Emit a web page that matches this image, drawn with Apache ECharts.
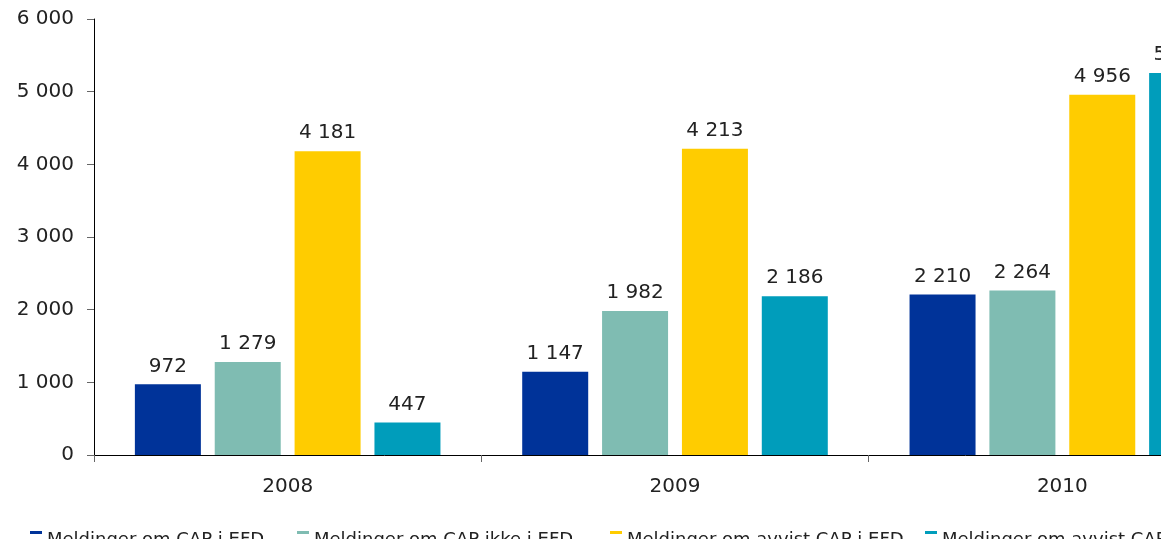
<!DOCTYPE html>
<html>
<head>
<meta charset="utf-8">
<script src="https://cdn.jsdelivr.net/npm/echarts@6/dist/echarts.min.js"></script>
<style>
  html, body { margin: 0; padding: 0; background: #fff; overflow: hidden; }
  /* drawing surface is wider than the window: the last bars run off the right edge */
  #chart { width: 1300px; height: 539px; }
</style>
</head>
<body>
<div id="chart"></div>
<script>
// Years on the category axis
const categories = ['2008', '2009', '2010'];

// Series names (legend)
const seriesNames = [
  'Meldinger om CAP i EFD',
  'Meldinger om CAP ikke i EFD',
  'Meldinger om avvist CAP i EFD',
  'Meldinger om avvist CAP ikke i EFD'
];

// Values per series, one per year
const capInEfd = [972, 1147, 2210];
const capNotInEfd = [1279, 1982, 2264];
const rejectedInEfd = [4181, 4213, 4956];
const rejectedNotInEfd = [447, 2186, 5257];

// Value axis ticks
const yMin = 0;
const yMax = 6000;
const yStep = 1000;

const colors = ['#003399', '#7fbcb2', '#ffcc00', '#009dbb'];
const seriesValues = [capInEfd, capNotInEfd, rejectedInEfd, rejectedNotInEfd];
const legendLefts = [25, 292, 605, 920];

const FONT = 'DejaVu Sans';
const fmt = v => String(v).replace(/\B(?=(\d{3})+(?!\d))/g, ' ');

const chart = echarts.init(document.getElementById('chart'), null, { renderer: 'canvas' });

chart.setOption({
  animation: false,
  backgroundColor: '#ffffff',
  color: colors,
  grid: { left: 94, top: 19, width: 1162, height: 436, containLabel: false },
  legend: seriesNames.map((name, i) => ({
    data: [name],
    left: legendLefts[i],
    top: 526,
    icon: 'rect',
    itemWidth: 12,
    itemHeight: 3,
    itemGap: 5,
    formatter: n => '{t|' + n + '}',
    textStyle: {
      fontFamily: FONT, fontSize: 18, color: '#222',
      rich: { t: { fontFamily: FONT, fontSize: 18, color: '#222', padding: [16, 0, 0, 0] } }
    }
  })),
  xAxis: {
    type: 'category',
    data: categories,
    axisLine: { lineStyle: { color: '#000', width: 1 } },
    axisTick: { show: true, length: 7, lineStyle: { color: '#666' } },
    axisLabel: { fontFamily: FONT, fontSize: 20, color: '#222', margin: 22 }
  },
  yAxis: {
    type: 'value',
    min: yMin,
    max: yMax,
    interval: yStep,
    axisLine: { show: true, lineStyle: { color: '#000', width: 1 } },
    axisTick: { show: true, length: 7, lineStyle: { color: '#666' } },
    splitLine: { show: false },
    axisLabel: { fontFamily: FONT, fontSize: 20, color: '#222', margin: 20, formatter: fmt }
  },
  series: seriesNames.map((name, i) => ({
    name: name,
    type: 'bar',
    data: seriesValues[i],
    barWidth: 66,
    barGap: '21%',
    itemStyle: { color: colors[i] },
    label: {
      show: true,
      position: 'top',
      distance: 8,
      fontFamily: FONT,
      fontSize: 20,
      color: '#222',
      formatter: p => fmt(p.value)
    }
  }))
});
</script>
</body>
</html>
